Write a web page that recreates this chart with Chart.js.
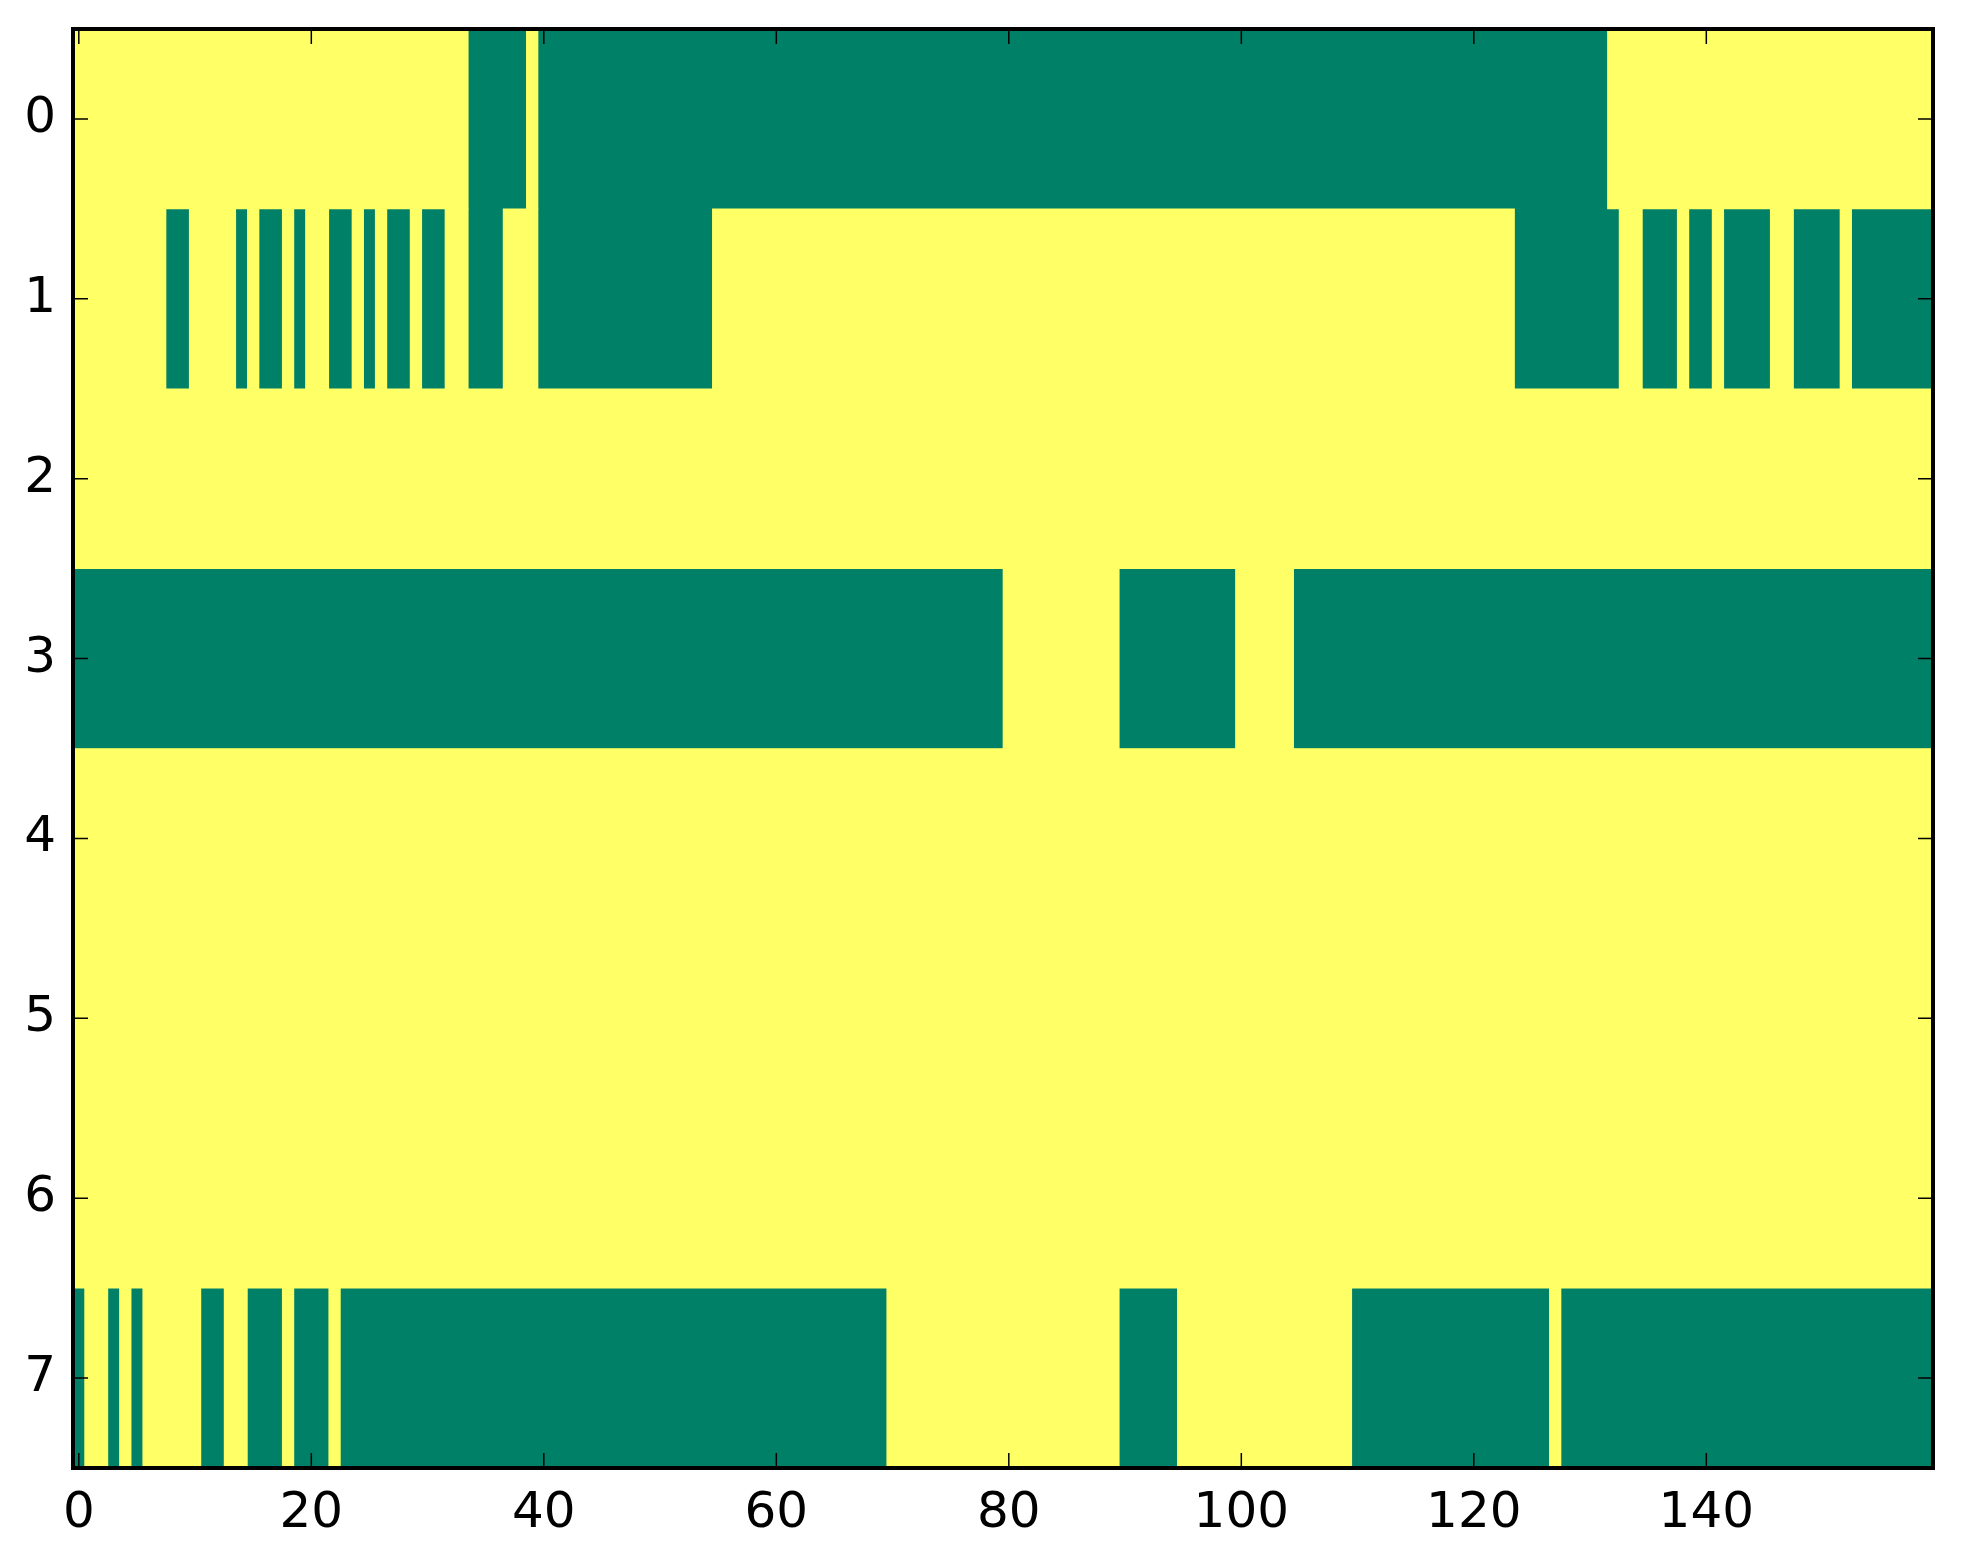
<!DOCTYPE html>
<html>
<head>
<meta charset="utf-8">
<script src="https://cdn.jsdelivr.net/npm/chart.js@4.4.0/dist/chart.umd.min.js"></script>
<style>
html, body { margin: 0; padding: 0; background: #fff; }
canvas { display: block; }
</style>
</head>
<body>
<canvas id="imageChart" width="1963" height="1564"></canvas>
<script>
const rowLabels = ["0", "1", "2", "3", "4", "5", "6", "7"];
const columnCount = 160;
const xTicks = [0, 20, 40, 60, 80, 100, 120, 140];

// runs of 0-valued (green) cells per row, inclusive column indices; the rest is 1 (yellow)
const row0 = [[34, 38], [40, 131]];
const row1 = [[8, 9], [14, 14], [16, 17], [19, 19], [22, 23], [25, 25], [27, 28], [30, 31], [34, 36], [40, 54],
              [124, 132], [135, 137], [139, 140], [142, 145], [148, 151], [153, 159]];
const row2 = [];
const row3 = [[0, 79], [90, 99], [105, 159]];
const row4 = [];
const row5 = [];
const row6 = [];
const row7 = [[0, 0], [3, 3], [5, 5], [11, 12], [15, 17], [19, 21], [23, 69], [90, 94], [110, 126], [128, 159]];
const zeroRuns = [row0, row1, row2, row3, row4, row5, row6, row7];

const zeroColor = "#008066";
const oneColor = "#ffff66";

const zeroBars = [];
const oneBars = [];
zeroRuns.forEach((runs, r) => {
    let next = 0;
    runs.forEach(([a, b]) => {
        if (a > next) oneBars.push({ y: rowLabels[r], x: [next - 0.5, a - 0.5] });
        zeroBars.push({ y: rowLabels[r], x: [a - 0.5, b + 0.5] });
        next = b + 1;
    });
    if (next < columnCount) oneBars.push({ y: rowLabels[r], x: [next - 0.5, columnCount - 0.5] });
});

const frame = {
    id: "frame",
    beforeDatasetsDraw(chart) {
        const { ctx, chartArea: a } = chart;
        ctx.save();
        ctx.fillStyle = oneColor;
        ctx.fillRect(a.left, a.top, a.width, a.height);
        ctx.restore();
    },
    afterDraw(chart) {
        const { ctx, chartArea: a, scales } = chart;
        const len = 15;
        ctx.save();
        ctx.strokeStyle = "#000";
        ctx.lineWidth = 1.5;
        ctx.beginPath();
        xTicks.forEach(v => {
            const px = scales.x.getPixelForValue(v);
            ctx.moveTo(px, a.bottom); ctx.lineTo(px, a.bottom - len);
            ctx.moveTo(px, a.top); ctx.lineTo(px, a.top + len);
        });
        rowLabels.forEach((l, i) => {
            const py = scales.y.getPixelForValue(i);
            ctx.moveTo(a.left, py); ctx.lineTo(a.left + len, py);
            ctx.moveTo(a.right, py); ctx.lineTo(a.right - len, py);
        });
        ctx.stroke();
        ctx.lineWidth = 4;
        ctx.strokeRect(a.left, a.top, a.width, a.height);
        ctx.restore();
    }
};

const tickFont = { family: "DejaVu Sans", size: 50 };

const noEdgePadding = s => {
    s.paddingTop = 0; s.paddingBottom = 0; s.paddingLeft = 0; s.paddingRight = 0;
};

new Chart(document.getElementById("imageChart").getContext("2d"), {
    type: "bar",
    data: {
        labels: rowLabels,
        datasets: [
            { data: oneBars, backgroundColor: oneColor, borderWidth: 0, borderSkipped: false,
              barPercentage: 1, categoryPercentage: 1, grouped: false },
            { data: zeroBars, backgroundColor: zeroColor, borderWidth: 0, borderSkipped: false,
              barPercentage: 1, categoryPercentage: 1, grouped: false }
        ]
    },
    options: {
        indexAxis: "y",
        responsive: false,
        animation: false,
        layout: { padding: { top: 29, right: 30, left: 0, bottom: 0 } },
        plugins: { legend: { display: false }, tooltip: { enabled: false } },
        scales: {
            x: {
                type: "linear",
                min: -0.5,
                max: columnCount - 0.5,
                grid: { display: false, drawTicks: false },
                border: { display: false },
                afterBuildTicks: s => { s.ticks = xTicks.map(value => ({ value })); },
                afterFit: s => { s.height = 96; noEdgePadding(s); },
                ticks: { font: tickFont, color: "#000", padding: 16, autoSkip: false, maxRotation: 0 }
            },
            y: {
                type: "category",
                offset: true,
                grid: { display: false, drawTicks: false },
                border: { display: false },
                afterFit: s => { s.width = 73; noEdgePadding(s); },
                ticks: { font: tickFont, color: "#000", padding: 17 }
            }
        }
    },
    plugins: [frame]
});
</script>
</body>
</html>
